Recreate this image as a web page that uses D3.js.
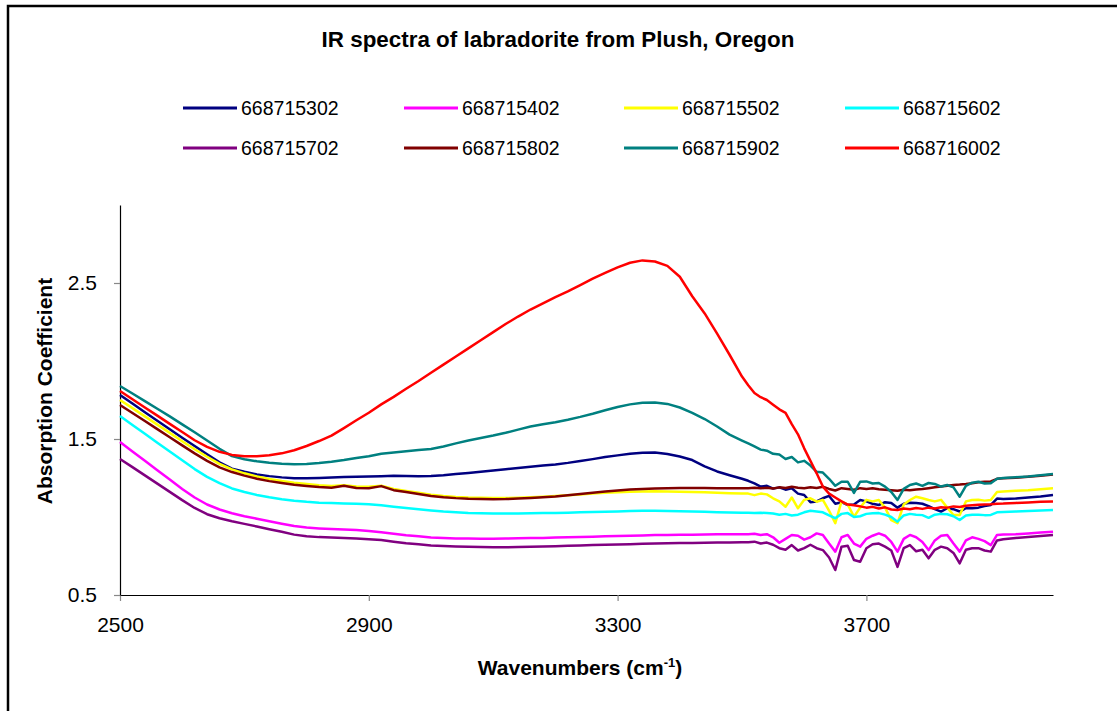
<!DOCTYPE html>
<html>
<head>
<meta charset="utf-8">
<script src="https://cdn.jsdelivr.net/npm/d3@7"></script>
<style>
  html, body { margin: 0; padding: 0; background: #fff; }
  svg { display: block; font-family: "Liberation Sans", Arial, sans-serif; }
</style>
</head>
<body>
<svg id="chart" width="1117" height="711"></svg>
<script>
// Wavenumber sampling (cm-1): 20 cm-1 steps, 10 cm-1 through the noisy OH region
const wavenumbers = [
  2500, 2520, 2540, 2560, 2580, 2600, 2620, 2640, 2660, 2680,
  2700, 2720, 2740, 2760, 2780, 2800, 2820, 2840, 2860, 2880,
  2900, 2920, 2940, 2960, 2980, 3000, 3020, 3040, 3060, 3080,
  3100, 3120, 3140, 3160, 3180, 3200, 3220, 3240, 3260, 3280,
  3300, 3320, 3340, 3360, 3380, 3400, 3420, 3440, 3460, 3480, 3500,
  3510, 3520, 3530, 3540, 3550, 3560, 3570, 3580, 3590, 3600,
  3610, 3620, 3630, 3640, 3650, 3660, 3670, 3680, 3690, 3700,
  3710, 3720, 3730, 3740, 3750, 3760, 3770, 3780, 3790, 3800,
  3810, 3820, 3830, 3840, 3850, 3860, 3870, 3880, 3890, 3900,
  3910, 3920,
  3940, 3960, 3980, 4000
];

const s668715302 = [
  1.782, 1.727, 1.672, 1.617, 1.562, 1.508, 1.455, 1.402, 1.350, 1.310,
  1.290, 1.273, 1.262, 1.254, 1.249, 1.248, 1.250, 1.253, 1.256, 1.258,
  1.260, 1.262, 1.264, 1.263, 1.262, 1.263, 1.268, 1.275, 1.282, 1.290,
  1.298, 1.306, 1.314, 1.322, 1.330, 1.337, 1.347, 1.359, 1.371, 1.384,
  1.395, 1.405, 1.412, 1.413, 1.404, 1.388, 1.365, 1.325, 1.292, 1.268, 1.245,
  1.232, 1.215, 1.195, 1.200, 1.182, 1.190, 1.175, 1.184, 1.150, 1.141,
  1.095, 1.100, 1.120, 1.135, 1.085, 1.095, 1.077, 1.080, 1.109, 1.100,
  1.085, 1.077, 1.095, 1.090, 1.060, 1.085, 1.092, 1.090, 1.085, 1.070,
  1.050, 1.034, 1.056, 1.050, 1.035, 1.056, 1.056, 1.060, 1.070, 1.077,
  1.118, 1.115,
  1.118, 1.125, 1.132, 1.141
];

const s668715402 = [
  1.481, 1.420, 1.360, 1.300, 1.240, 1.180, 1.125, 1.080, 1.048, 1.024,
  1.005, 0.989, 0.973, 0.957, 0.942, 0.932, 0.927, 0.923, 0.920, 0.916,
  0.911, 0.902, 0.892, 0.883, 0.876, 0.869, 0.865, 0.862, 0.862, 0.861,
  0.861, 0.862, 0.863, 0.865, 0.866, 0.868, 0.870, 0.872, 0.874, 0.876,
  0.878, 0.880, 0.882, 0.884, 0.885, 0.886, 0.887, 0.888, 0.889, 0.890, 0.890,
  0.890, 0.893, 0.885, 0.890, 0.870, 0.835, 0.860, 0.885, 0.880, 0.855,
  0.870, 0.895, 0.885, 0.830, 0.778, 0.870, 0.885, 0.830, 0.810, 0.860,
  0.880, 0.895, 0.880, 0.840, 0.778, 0.860, 0.885, 0.870, 0.840, 0.788,
  0.850, 0.880, 0.885, 0.830, 0.778, 0.850, 0.870, 0.860, 0.845, 0.820,
  0.885, 0.888,
  0.890, 0.895, 0.900, 0.906
];

const s668715502 = [
  1.750, 1.698, 1.645, 1.592, 1.539, 1.486, 1.434, 1.386, 1.341, 1.305,
  1.280, 1.260, 1.244, 1.231, 1.220, 1.211, 1.203, 1.198, 1.203, 1.196,
  1.194, 1.200, 1.180, 1.167, 1.155, 1.143, 1.135, 1.129, 1.125, 1.123,
  1.121, 1.121, 1.123, 1.126, 1.130, 1.135, 1.140, 1.145, 1.150, 1.155,
  1.158, 1.162, 1.164, 1.165, 1.164, 1.162, 1.160, 1.158, 1.155, 1.152, 1.150,
  1.150, 1.140, 1.150, 1.145, 1.120, 1.100, 1.066, 1.125, 1.056, 1.110,
  1.120, 1.098, 1.110, 1.040, 0.960, 1.100, 1.080, 1.002, 1.060, 1.110,
  1.100, 1.109, 1.060, 0.980, 0.960, 1.080, 1.109, 1.130, 1.120, 1.109,
  1.100, 1.110, 1.060, 1.013, 1.013, 1.100, 1.109, 1.110, 1.105, 1.109,
  1.160, 1.163,
  1.168, 1.172, 1.178, 1.184
];

const s668715602 = [
  1.647, 1.590, 1.533, 1.476, 1.420, 1.364, 1.307, 1.257, 1.217, 1.183,
  1.160, 1.141, 1.126, 1.114, 1.104, 1.097, 1.092, 1.089, 1.087, 1.085,
  1.082, 1.075, 1.066, 1.057, 1.049, 1.042, 1.035, 1.030, 1.026, 1.024,
  1.023, 1.023, 1.023, 1.024, 1.025, 1.026, 1.028, 1.030, 1.032, 1.034,
  1.036, 1.038, 1.040, 1.040, 1.039, 1.037, 1.035, 1.033, 1.031, 1.029, 1.027,
  1.027, 1.026, 1.028, 1.025, 1.022, 1.015, 1.020, 1.010, 1.015, 1.030,
  1.040, 1.035, 1.030, 1.010, 0.992, 1.020, 1.025, 1.000, 1.005, 1.020,
  1.024, 1.025, 1.015, 1.000, 0.970, 1.010, 1.020, 1.015, 1.012, 0.995,
  1.015, 1.020, 1.018, 1.005, 0.981, 1.010, 1.015, 1.015, 1.012, 1.013,
  1.030, 1.032,
  1.035, 1.038, 1.042, 1.045
];

const s668715702 = [
  1.372, 1.320, 1.267, 1.214, 1.161, 1.108, 1.058, 1.018, 0.992, 0.973,
  0.956, 0.939, 0.922, 0.905, 0.887, 0.876, 0.871, 0.868, 0.866, 0.862,
  0.858, 0.852, 0.842, 0.832, 0.825, 0.818, 0.814, 0.811, 0.809, 0.807,
  0.806, 0.806, 0.807, 0.809, 0.811, 0.813, 0.815, 0.817, 0.820, 0.822,
  0.824, 0.826, 0.828, 0.830, 0.832, 0.833, 0.834, 0.835, 0.836, 0.837, 0.838,
  0.838, 0.842, 0.830, 0.836, 0.822, 0.800, 0.790, 0.820, 0.785, 0.800,
  0.822, 0.800, 0.788, 0.740, 0.660, 0.810, 0.815, 0.724, 0.713, 0.800,
  0.825, 0.830, 0.810, 0.785, 0.680, 0.800, 0.820, 0.780, 0.790, 0.735,
  0.790, 0.810, 0.800, 0.770, 0.703, 0.790, 0.800, 0.800, 0.785, 0.778,
  0.850, 0.858,
  0.866, 0.872, 0.878, 0.885
];

const s668715802 = [
  1.718, 1.667, 1.615, 1.563, 1.511, 1.459, 1.408, 1.360, 1.318, 1.288,
  1.265, 1.245, 1.230, 1.218, 1.207, 1.199, 1.192, 1.187, 1.200, 1.186,
  1.184, 1.198, 1.172, 1.160, 1.147, 1.135, 1.127, 1.121, 1.117, 1.115,
  1.114, 1.115, 1.118, 1.122, 1.127, 1.132, 1.140, 1.148, 1.156, 1.163,
  1.170, 1.176, 1.180, 1.183, 1.185, 1.186, 1.186, 1.186, 1.185, 1.185, 1.185,
  1.185, 1.188, 1.184, 1.187, 1.183, 1.190, 1.186, 1.194, 1.188, 1.184,
  1.190, 1.186, 1.194, 1.180, 1.170, 1.185, 1.180, 1.175, 1.185, 1.180,
  1.184, 1.178, 1.175, 1.172, 1.168, 1.175, 1.172, 1.176, 1.180, 1.185,
  1.190, 1.195, 1.200, 1.205, 1.208, 1.212, 1.217, 1.222, 1.226, 1.228,
  1.245, 1.248,
  1.252, 1.258, 1.265, 1.272
];

const s668715902 = [
  1.840, 1.792, 1.743, 1.694, 1.645, 1.594, 1.543, 1.490, 1.437, 1.390,
  1.370, 1.357, 1.348, 1.341, 1.338, 1.340, 1.346, 1.354, 1.365, 1.378,
  1.390, 1.405, 1.414, 1.422, 1.430, 1.436, 1.452, 1.472, 1.490, 1.506,
  1.522, 1.540, 1.560, 1.580, 1.595, 1.608, 1.624, 1.642, 1.662, 1.684,
  1.705, 1.722, 1.732, 1.734, 1.725, 1.702, 1.668, 1.628, 1.580, 1.528, 1.490,
  1.472, 1.452, 1.432, 1.425, 1.405, 1.400, 1.372, 1.385, 1.350, 1.360,
  1.330, 1.290, 1.285, 1.245, 1.200, 1.226, 1.226, 1.154, 1.226, 1.228,
  1.215, 1.218, 1.195, 1.160, 1.109, 1.180, 1.205, 1.215, 1.200, 1.218,
  1.212, 1.195, 1.205, 1.190, 1.130, 1.200, 1.220, 1.226, 1.215, 1.217,
  1.245, 1.250,
  1.255, 1.260, 1.268, 1.276
];

const s668716002 = [
  1.808, 1.755, 1.702, 1.650, 1.597, 1.545, 1.492, 1.450, 1.418, 1.398,
  1.390, 1.390, 1.396, 1.408, 1.428, 1.455, 1.487, 1.522, 1.570, 1.620,
  1.668, 1.722, 1.770, 1.822, 1.872, 1.925, 1.977, 2.029, 2.081, 2.133,
  2.185, 2.237, 2.285, 2.330, 2.370, 2.410, 2.447, 2.487, 2.528, 2.565,
  2.600, 2.630, 2.645, 2.638, 2.610, 2.540, 2.415, 2.305, 2.175, 2.040, 1.900,
  1.845, 1.795, 1.768, 1.750, 1.720, 1.690, 1.668, 1.595, 1.530, 1.440,
  1.360, 1.280, 1.195, 1.150, 1.125, 1.100, 1.080, 1.075, 1.068, 1.060,
  1.065, 1.055, 1.062, 1.048, 1.045, 1.055, 1.050, 1.058, 1.052, 1.060,
  1.055, 1.062, 1.060, 1.068, 1.064, 1.072, 1.075, 1.078, 1.080, 1.082,
  1.085, 1.086,
  1.090, 1.093, 1.097, 1.100
];

const seriesNames = ["668715302", "668715402", "668715502", "668715602",
                     "668715702", "668715802", "668715902", "668716002"];
const seriesValues = [s668715302, s668715402, s668715502, s668715602,
                      s668715702, s668715802, s668715902, s668716002];
const seriesColors = ["#000080", "#FF00FF", "#FFFF00", "#00FFFF",
                      "#800080", "#800000", "#008080", "#FF0000"];

const xTicks = [2500, 2900, 3300, 3700];
const yTicks = [0.5, 1.5, 2.5];

const svg = d3.select("#chart");

// outer chart frame
svg.append("rect")
  .attr("x", 8).attr("y", 6)
  .attr("width", 1200).attr("height", 800)
  .attr("fill", "none").attr("stroke", "#000").attr("stroke-width", 2.5);

const x = d3.scaleLinear().domain([2500, 4000]).range([120, 1053]);
const y = d3.scaleLinear().domain([0.5, 3.0]).range([595, 205]);

// title
svg.append("text")
  .attr("x", 558).attr("y", 47)
  .attr("text-anchor", "middle")
  .attr("font-size", 22.4).attr("font-weight", "bold")
  .text("IR spectra of labradorite from Plush, Oregon");

// legend
const legendCols = [183, 404, 624, 845];
const legendRows = [108, 148];
const legend = svg.append("g");
seriesNames.forEach((name, i) => {
  const lx = legendCols[i % 4], ly = legendRows[Math.floor(i / 4)];
  legend.append("line")
    .attr("x1", lx).attr("x2", lx + 54)
    .attr("y1", ly).attr("y2", ly)
    .attr("stroke", seriesColors[i]).attr("stroke-width", 3);
  legend.append("text")
    .attr("x", lx + 58).attr("y", ly + 7)
    .attr("font-size", 19.5)
    .text(name);
});

// axes
const xAxis = svg.append("g")
  .attr("transform", "translate(0,595)")
  .call(d3.axisBottom(x).tickValues(xTicks).tickSize(6).tickSizeOuter(0).tickPadding(16)
        .tickFormat(d3.format("d")));
const yAxis = svg.append("g")
  .attr("transform", "translate(120,0)")
  .call(d3.axisLeft(y).tickValues(yTicks).tickSize(6).tickSizeOuter(0).tickPadding(17)
        .tickFormat(d3.format(".1f")));

[xAxis, yAxis].forEach(g => {
  g.select(".domain").attr("stroke", "#000").attr("stroke-width", 1.2);
  g.selectAll(".tick line").attr("stroke", "#888").attr("stroke-width", 1.2);
  g.selectAll(".tick text")
    .attr("fill", "#000")
    .attr("font-size", 21)
    .attr("font-family", "'Liberation Sans', Arial, sans-serif");
});

// axis titles
const xTitle = svg.append("text")
  .attr("x", 580).attr("y", 675)
  .attr("text-anchor", "middle")
  .attr("font-size", 21).attr("font-weight", "bold");
xTitle.append("tspan").text("Wavenumbers (cm");
xTitle.append("tspan").attr("font-size", 13).attr("dy", -8).text("-1");
xTitle.append("tspan").attr("dy", 8).text(")");

svg.append("text")
  .attr("transform", "translate(52,391) rotate(-90)")
  .attr("text-anchor", "middle")
  .attr("font-size", 21).attr("font-weight", "bold")
  .text("Absorption Coefficient");

// spectra
const line = d3.line()
  .x(d => x(d[0]))
  .y(d => y(d[1]))
  .defined(d => d[1] != null);

const plot = svg.append("g");
seriesValues.forEach((vals, i) => {
  const pts = wavenumbers.map((w, j) => [w, vals[j]]);
  plot.append("path")
    .datum(pts)
    .attr("fill", "none")
    .attr("stroke", seriesColors[i])
    .attr("stroke-width", 2.5)
    .attr("stroke-linejoin", "round")
    .attr("d", line);
});
</script>
</body>
</html>
